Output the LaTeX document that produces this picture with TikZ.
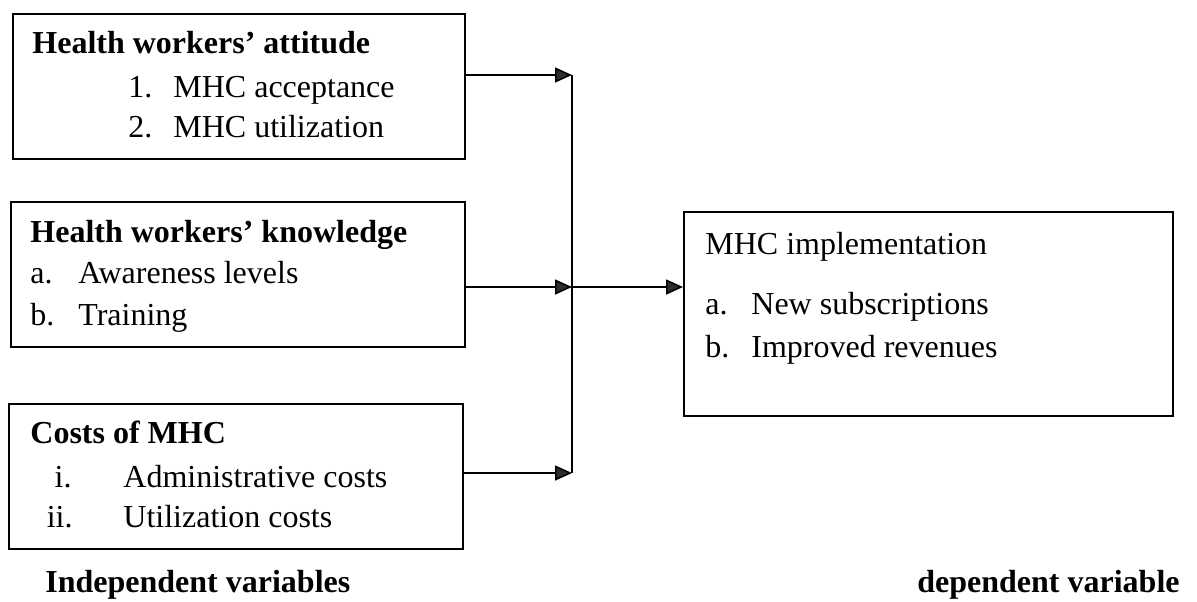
\documentclass[tikz,border=0pt]{standalone}
\usepackage{fontspec}
\setmainfont{Liberation Serif}
\usetikzlibrary{arrows.meta}

\definecolor{tipgray}{RGB}{45,45,45}
\tikzset{
  varbox/.style={draw, line width=0.9pt, inner sep=0pt, anchor=north west},
  txt/.style={anchor=base west, inner sep=0pt, font=\fontsize{16}{20}\selectfont},
  num/.style={anchor=base east, inner sep=0pt, font=\fontsize{16}{20}\selectfont},
  flow/.style={line width=0.8pt, -{Triangle[length=8.5pt,width=7.5pt,fill=tipgray]}},
}

\begin{document}
\begin{tikzpicture}[x=0.5pt, y=-0.5pt]
  \useasboundingbox (0,0) rectangle (1197,601);

  % independent variables
  \node[varbox, minimum width=226pt, minimum height=72.5pt] (att) at (12,13) {};
  \node[txt, font=\fontsize{16}{20}\selectfont\bfseries] (atthead) at (32,53) {Health workers’ attitude};
  \node[txt] (attnuma) at (128,97) {1.};
  \node[txt] (attacc) at (173,97) {MHC acceptance};
  \node[txt] (attnumb) at (128,137) {2.};
  \node[txt] (attutil) at (173,137) {MHC utilization};

  \node[varbox, minimum width=227pt, minimum height=72.5pt] (know) at (10,201) {};
  \node[txt, font=\fontsize{16}{20}\selectfont\bfseries] (knowhead) at (30,242) {Health workers’ knowledge};
  \node[txt] (knownuma) at (30,283) {a.};
  \node[txt] (knowaware) at (78,283) {Awareness levels};
  \node[txt] (knownumb) at (30,325) {b.};
  \node[txt] (knowtrain) at (78,325) {Training};

  \node[varbox, minimum width=227pt, minimum height=72.5pt] (cost) at (8,403) {};
  \node[txt, font=\fontsize{16}{20}\selectfont\bfseries] (costhead) at (30,443) {Costs of MHC};
  \node[num] (costnuma) at (72,487) {i.};
  \node[txt] (costadmin) at (123,487) {Administrative costs};
  \node[num] (costnumb) at (73,527) {ii.};
  \node[txt] (costutil) at (123,527) {Utilization costs};

  % dependent variable
  \node[varbox, minimum width=244.5pt, minimum height=102pt] (impl) at (683,211) {};
  \node[txt] (implhead) at (705,254) {MHC implementation};
  \node[txt] (implnuma) at (705,314) {a.};
  \node[txt] (implsub) at (751,314) {New subscriptions};
  \node[txt] (implnumb) at (705,357) {b.};
  \node[txt] (implrev) at (751,357) {Improved revenues};

  \node[txt, font=\fontsize{16}{20}\selectfont\bfseries] (indep) at (45,592) {Independent variables};
  \node[num, font=\fontsize{16}{20}\selectfont\bfseries] (dep) at (1180,592) {dependent variable};

  % connectors
  \coordinate (jtop) at (572,75);
  \coordinate (jmid) at (572,287);
  \coordinate (jbot) at (572,473);
  \draw[flow] (jtop -| att.east) -- (jtop);
  \draw[flow] (jmid -| know.east) -- (jmid);
  \draw[flow] (jbot -| cost.east) -- (jbot);
  \draw[line width=0.8pt] (jtop) -- (jbot);
  \draw[flow] (jmid) -- (jmid -| impl.west);
\end{tikzpicture}
\end{document}
